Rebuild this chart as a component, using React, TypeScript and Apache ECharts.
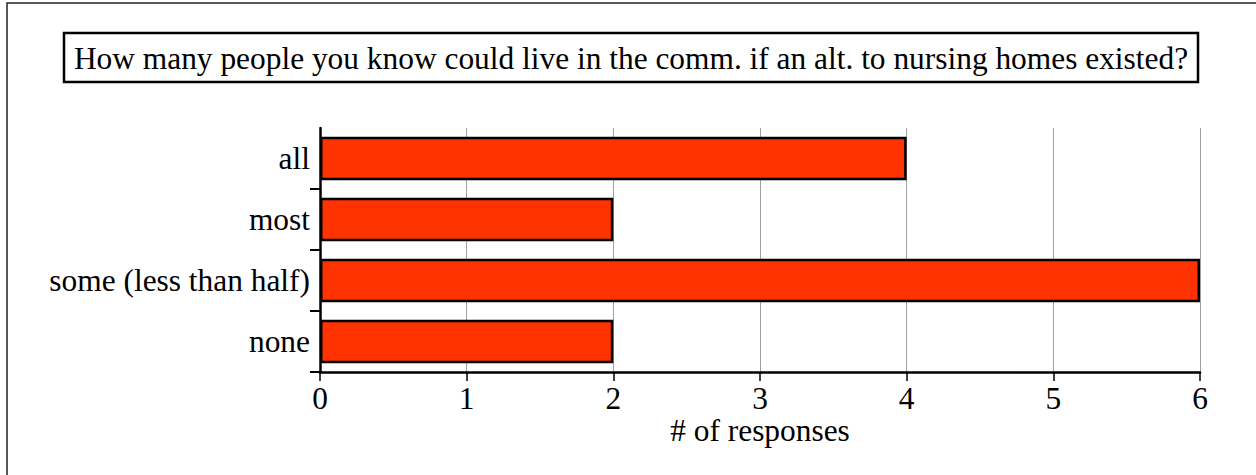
import React, { useEffect, useRef } from "react";
import * as echarts from "echarts";

const titleText = "How many people you know could live in the comm. if an alt. to nursing homes existed?";
const categories = ["all", "most", "some (less than half)", "none"];
const responses = [4, 2, 6, 2];
const xTicks = [0, 6, 1];
const xAxisName = "# of responses";

const FONT = "Liberation Serif, Times New Roman, serif";
const FS = 31.4;

export default function App() {
  const ref = useRef<HTMLDivElement>(null);
  useEffect(() => {
    if (!ref.current) return;
    const chart = echarts.init(ref.current, null, { renderer: "svg" });
    chart.setOption({
      animation: false,
      backgroundColor: "#ffffff",
      grid: { left: 320, right: 56, top: 128, bottom: 103, containLabel: false },
      xAxis: {
        type: "value",
        min: xTicks[0],
        max: xTicks[1],
        interval: xTicks[2],
        name: xAxisName,
        nameLocation: "middle",
        nameGap: 43,
        nameMoveOverlap: false,
        nameTextStyle: { fontFamily: FONT, fontSize: FS, color: "#000" },
        axisLine: { show: true, lineStyle: { color: "#000", width: 2.5 } },
        axisTick: { show: true, inside: false, length: 9, lineStyle: { color: "#000", width: 1.5 } },
        axisLabel: { fontFamily: FONT, fontSize: FS, color: "#000", margin: 11 },
        splitLine: { show: true, lineStyle: { color: "#a0a0a0", width: 1 } },
      },
      yAxis: {
        type: "category",
        data: categories,
        inverse: true,
        axisLine: { show: true, lineStyle: { color: "#000", width: 2.5 } },
        axisTick: {
          show: true,
          length: 10,
          interval: (index: number) => index !== 0,
          lineStyle: { color: "#000", width: 2 },
        },
        axisLabel: { fontFamily: FONT, fontSize: FS, color: "#000", margin: 10 },
        splitLine: { show: false },
      },
      series: [
        {
          type: "bar",
          data: responses,
          barCategoryGap: "29%",
          itemStyle: { color: "#ff3300", borderColor: "#000", borderWidth: 2.5 },
          label: { show: false },
        },
      ],
      graphic: [
        {
          type: "rect",
          shape: { x: 7, y: 3, width: 1400, height: 600 },
          style: { fill: "none", stroke: "#222", lineWidth: 1.5 },
          silent: true,
        },
        {
          type: "rect",
          shape: { x: 64, y: 33, width: 1134, height: 49 },
          style: { fill: "#fff", stroke: "#000", lineWidth: 2.5 },
          silent: true,
        },
        {
          type: "text",
          x: 631,
          y: 58,
          style: {
            text: titleText,
            fontFamily: FONT,
            fontSize: FS,
            fill: "#000",
            textAlign: "center",
            textVerticalAlign: "middle",
          },
          silent: true,
        },
      ],
    });
    return () => chart.dispose();
  }, []);
  return (
    <div
      ref={ref}
      style={{ position: "fixed", left: 0, top: 0, width: 1256, height: 475, background: "#fff" }}
    />
  );
}
